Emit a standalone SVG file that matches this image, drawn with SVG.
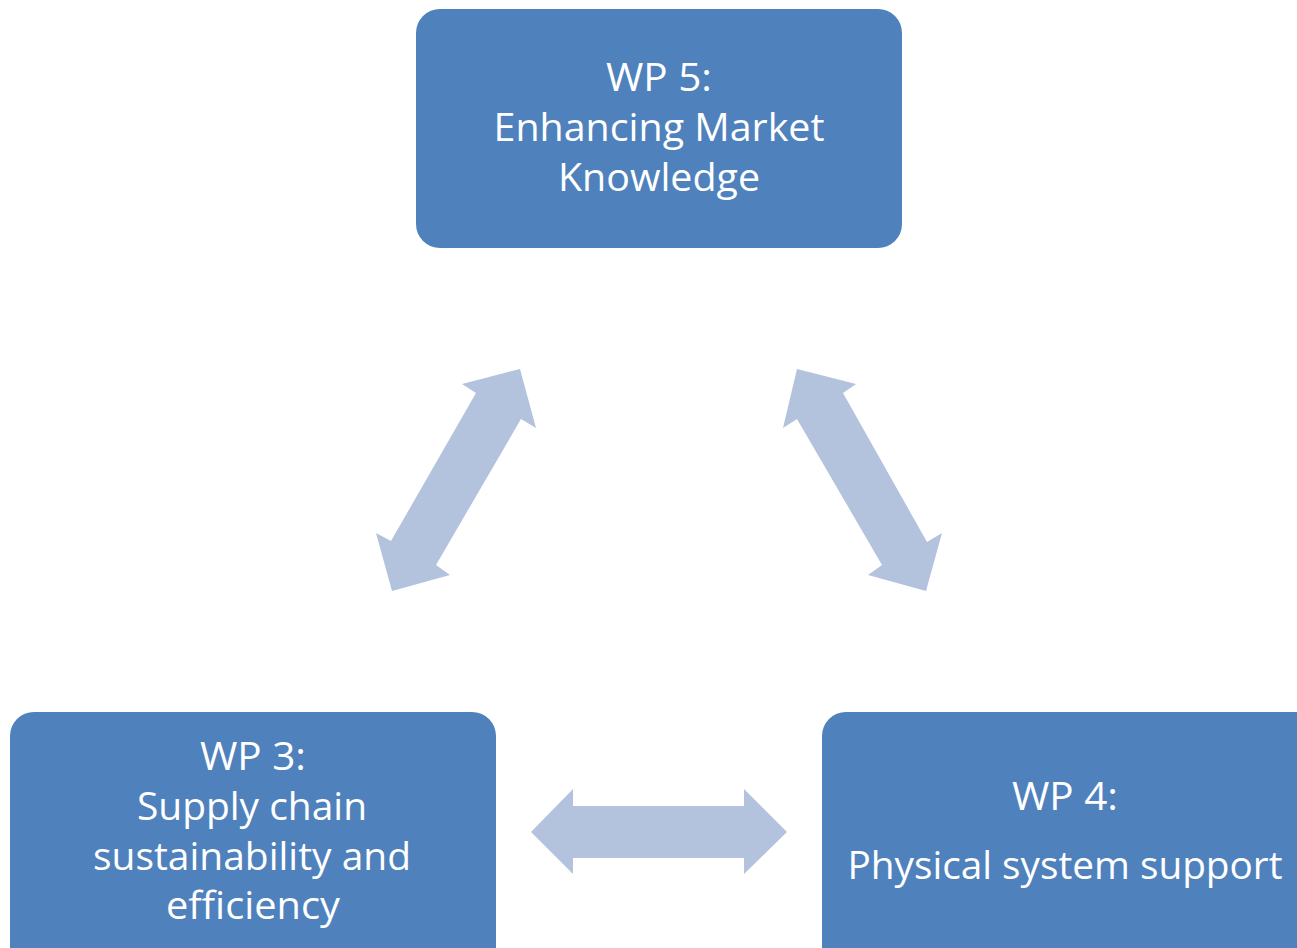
<svg xmlns="http://www.w3.org/2000/svg" width="1297" height="948" viewBox="0 0 1297 948">
<style>
.box{fill:#4F81BD}
.arr{fill:#B3C2DD}
text{font-family:"Open Sans","Noto Sans","Liberation Sans",sans-serif;font-size:38px;fill:#FFFFFF;text-anchor:middle}
</style>
<rect width="1297" height="948" fill="#FFFFFF"/>
<g id="connectors">
<polygon class="arr" points="520,369 536,428 521,419 436,565 450,575 392,591 376,533 391,541 476,393 462,384"/>
<polygon class="arr" points="797,369 856,384 843,393 927,542 942,533 926,591 868,575 882,565 797,419 783,428"/>
<polygon class="arr" points="531,832 573,789 573,806 744,806 744,789 787,832 744,874 744,858 573,858 573,874"/>
</g>
<g id="wp5">
<rect class="box" x="416" y="9" width="486" height="239" rx="24"/>
<text x="659" y="91" textLength="106" lengthAdjust="spacingAndGlyphs">WP 5:</text>
<text x="659" y="141" textLength="331" lengthAdjust="spacingAndGlyphs">Enhancing Market</text>
<text x="659" y="191" textLength="202" lengthAdjust="spacingAndGlyphs">Knowledge</text>
</g>
<g id="wp3">
<rect class="box" x="10" y="712" width="486" height="260" rx="24"/>
<text x="253" y="770" textLength="106" lengthAdjust="spacingAndGlyphs">WP 3:</text>
<text x="252" y="820" textLength="230" lengthAdjust="spacingAndGlyphs">Supply chain</text>
<text x="252" y="870" textLength="318" lengthAdjust="spacingAndGlyphs">sustainability and</text>
<text x="253" y="919" textLength="174" lengthAdjust="spacingAndGlyphs">efficiency</text>
</g>
<g id="wp4">
<rect class="box" x="822" y="712" width="500" height="260" rx="24"/>
<text x="1065" y="810" textLength="106" lengthAdjust="spacingAndGlyphs">WP 4:</text>
<text x="1065" y="879" textLength="435" lengthAdjust="spacingAndGlyphs">Physical system support</text>
</g>
</svg>
